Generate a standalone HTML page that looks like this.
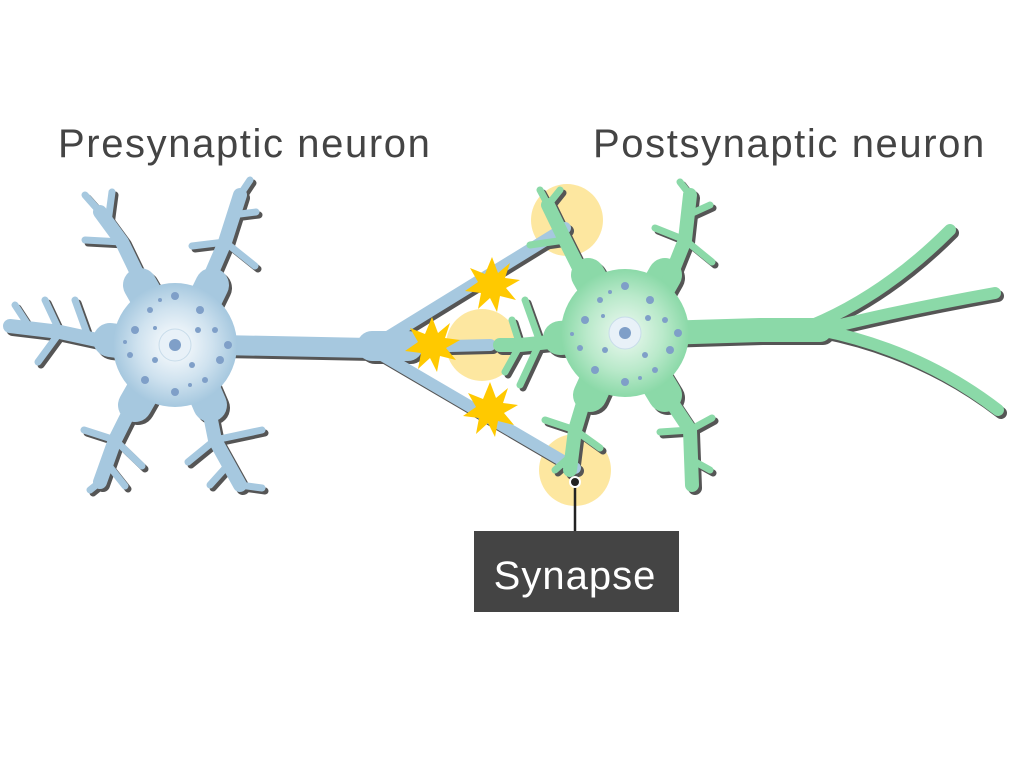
<!DOCTYPE html>
<html><head><style>body{margin:0;background:#fff}svg{display:block}</style></head><body>
<svg width="1024" height="776" viewBox="0 0 1024 776" xmlns="http://www.w3.org/2000/svg">
<defs>
<radialGradient id="gb" cx="0.5" cy="0.5" r="0.5"><stop offset="0" stop-color="#ffffff"/><stop offset="0.6" stop-color="#cfe2ef"/><stop offset="1" stop-color="#a6c8df"/></radialGradient>
<radialGradient id="gg" cx="0.5" cy="0.5" r="0.5"><stop offset="0" stop-color="#eef9f2"/><stop offset="0.6" stop-color="#b9e9ca"/><stop offset="1" stop-color="#8bd9a8"/></radialGradient>
<g id="pre" fill="none" stroke-linecap="round" stroke-linejoin="round">
<path stroke-width="34" d="M160 320 L140 285 M195 320 L212 285 M150 345 L110 340 M155 370 L135 405 M195 370 L210 405"/>
<path stroke-width="14" d="M150 300 L122 242 L100 212 M200 300 L225 242 L240 195 M120 345 L60 332 L10 326 M140 390 L115 440 L100 482 M205 390 L215 440 L240 485"/>
<path stroke-width="20" d="M220 345 L370 348"/>
<path stroke-width="7" d="M122 242 L85 240 M108 222 L112 192 M100 212 L85 195 M225 242 L192 246 M232 215 L256 212 M225 242 L255 266 M240 195 L250 180 M60 332 L45 300 M60 332 L38 362 M88 336 L75 300 M30 328 L15 305 M115 440 L84 430 M115 440 L142 466 M106 462 L125 486 M100 482 L90 490 M215 440 L188 462 M215 440 L262 430 M228 465 L210 485 M240 485 L262 488"/>
<path stroke-width="12" d="M370 348 L565 228 M370 348 L490 345 M370 348 L575 468"/>
<path stroke-width="30" d="M372 346 L408 346"/>
<circle cx="175" cy="345" r="52" stroke="none"/>
<circle cx="565" cy="228" r="11" stroke="none"/><circle cx="490" cy="345" r="11" stroke="none"/><circle cx="575" cy="468" r="11" stroke="none"/>
</g>
<g id="post" fill="none" stroke-linecap="round" stroke-linejoin="round">
<path stroke-width="34" d="M605 305 L588 275 M648 305 L665 275 M600 335 L560 338 M605 362 L590 395 M645 362 L665 395"/>
<path stroke-width="14" d="M590 290 L565 240 L548 205 M665 290 L685 240 L690 195 M570 340 L520 345 L500 345 M590 380 L575 430 L570 470 M660 385 L690 430 L692 485"/>
<path stroke-width="7" d="M565 240 L530 245 M555 218 L540 190 M548 205 L560 190 M685 240 L655 228 M688 215 L710 205 M685 240 L712 262 M690 195 L680 182 M520 345 L512 320 M520 345 L505 372 M540 342 L525 300 M540 342 L520 385 M575 430 L545 420 M575 430 L600 448 M572 455 L555 470 M690 430 L660 432 M690 430 L712 418 M692 460 L710 470"/>
<path stroke-width="24" d="M660 333 L760 330 L820 330"/>
<path stroke-width="12" d="M800 330 Q880 300 950 230 M820 330 Q900 310 995 293 M820 330 Q920 350 998 410"/>
<circle cx="625" cy="333" r="56" stroke="none"/>
<circle cx="950" cy="230" r="10" stroke="none"/><circle cx="995" cy="293" r="10" stroke="none"/><circle cx="998" cy="410" r="10" stroke="none"/>
</g>
</defs>
<g fill="#fde7a0"><circle cx="567" cy="220" r="36"/><circle cx="482" cy="345" r="36"/><circle cx="575" cy="470" r="36"/></g>
<use href="#pre" stroke="#555" fill="#555" transform="translate(3,3)"/>
<use href="#post" stroke="#555" fill="#555" transform="translate(3,3)"/>
<use href="#pre" stroke="#a6c8df" fill="#a6c8df"/>
<use href="#post" stroke="#8bd9a8" fill="#8bd9a8"/>
<circle cx="175" cy="345" r="62" fill="url(#gb)"/>
<circle cx="625" cy="333" r="64" fill="url(#gg)"/>
<g fill="#7f9fc8">
<circle cx="175" cy="296" r="4"/><circle cx="150" cy="310" r="3"/><circle cx="200" cy="310" r="4"/><circle cx="135" cy="330" r="4"/><circle cx="215" cy="330" r="3"/><circle cx="130" cy="355" r="3"/><circle cx="220" cy="360" r="4"/><circle cx="145" cy="380" r="4"/><circle cx="205" cy="380" r="3"/><circle cx="175" cy="392" r="4"/><circle cx="160" cy="300" r="2"/><circle cx="190" cy="385" r="2"/><circle cx="228" cy="345" r="4"/><circle cx="125" cy="342" r="2"/><circle cx="155" cy="360" r="3"/><circle cx="198" cy="330" r="3"/><circle cx="192" cy="365" r="3"/><circle cx="155" cy="328" r="2"/>
<circle cx="625" cy="286" r="4"/><circle cx="600" cy="300" r="3"/><circle cx="650" cy="300" r="4"/><circle cx="585" cy="320" r="4"/><circle cx="665" cy="320" r="3"/><circle cx="580" cy="348" r="3"/><circle cx="670" cy="350" r="4"/><circle cx="595" cy="370" r="4"/><circle cx="655" cy="370" r="3"/><circle cx="625" cy="382" r="4"/><circle cx="610" cy="292" r="2"/><circle cx="640" cy="378" r="2"/><circle cx="678" cy="333" r="4"/><circle cx="572" cy="334" r="2"/><circle cx="605" cy="350" r="3"/><circle cx="648" cy="318" r="3"/><circle cx="645" cy="355" r="3"/><circle cx="603" cy="316" r="2"/>
</g>
<circle cx="175" cy="345" r="16" fill="#e8f1f8" stroke="#c8dcea"/><circle cx="175" cy="345" r="6" fill="#7f9fc8"/>
<circle cx="625" cy="333" r="16" fill="#e8f1f8" stroke="#c8dcea"/><circle cx="625" cy="333" r="6" fill="#7f9fc8"/>
<g fill="#ffc900">
<polygon transform="translate(492,285)" points="0,-28 6,-12 18,-22 13,-7 28,-5 14,3 24,15 8,11 5,27 -2,13 -14,24 -11,8 -27,6 -14,-3 -22,-17 -7,-11"/>
<polygon transform="translate(432,345)" points="0,-28 6,-12 18,-22 13,-7 28,-5 14,3 24,15 8,11 5,27 -2,13 -14,24 -11,8 -27,6 -14,-3 -22,-17 -7,-11"/>
<polygon transform="translate(490,410)" points="0,-28 6,-12 18,-22 13,-7 28,-5 14,3 24,15 8,11 5,27 -2,13 -14,24 -11,8 -27,6 -14,-3 -22,-17 -7,-11"/>
</g>
<line x1="575" y1="482" x2="575" y2="532" stroke="#222" stroke-width="2.5"/>
<circle cx="575" cy="482" r="5" fill="#222" stroke="#fff" stroke-width="2"/>
<rect x="474" y="531" width="205" height="81" fill="#444"/>
<text x="575" y="589" text-anchor="middle" font-family="Liberation Sans, sans-serif" font-size="40" letter-spacing="1" fill="#fff">Synapse</text>
<text x="58" y="157" font-family="Liberation Sans, sans-serif" font-size="40" letter-spacing="1.6" fill="#444">Presynaptic neuron</text>
<text x="593" y="157" font-family="Liberation Sans, sans-serif" font-size="40" letter-spacing="1.6" fill="#444">Postsynaptic neuron</text>
</svg>
</body></html>
